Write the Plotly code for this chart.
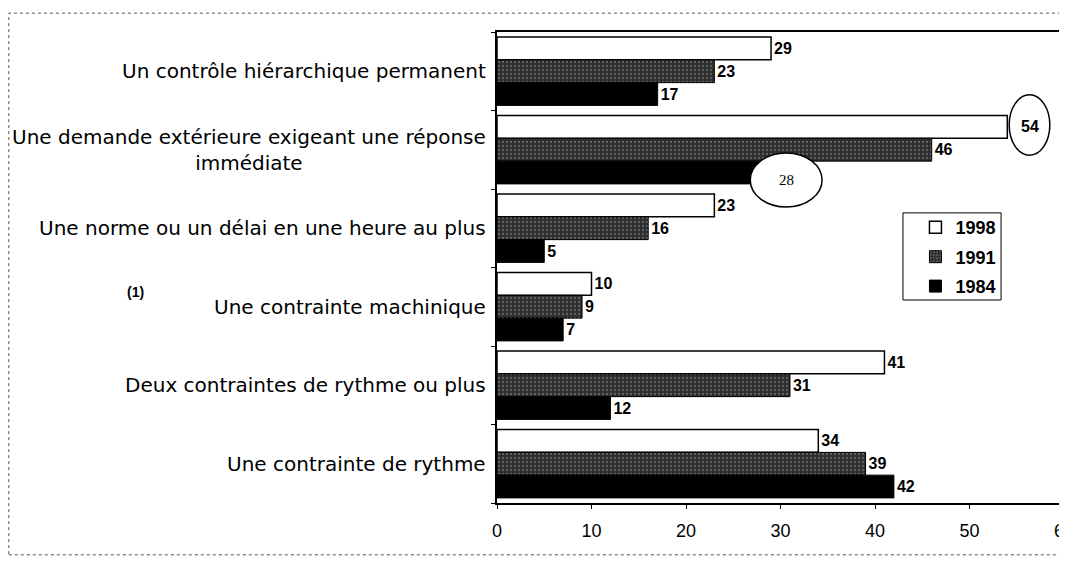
import plotly.graph_objects as go

categories = [
    "Un contrôle hiérarchique permanent",
    "Une demande extérieure exigeant une réponse<br>immédiate",
    "Une norme ou un délai en une heure au plus",
    "Une contrainte machinique",
    "Deux contraintes de rythme ou plus",
    "Une contrainte de rythme",
]
years = ["1998", "1991", "1984"]
v1998 = [29, 54, 23, 10, 41, 34]
v1991 = [23, 46, 16, 9, 31, 39]
v1984 = [17, 28, 5, 7, 12, 42]
x_ticks = [0, 10, 20, 30, 40, 50, 60]
x_ticktext = ["0", "10", "20", "30", "40", "50", "60"]

ypos = list(range(len(categories)))
FONT = "Liberation Sans, Arial, sans-serif"
lab_font = dict(family=FONT, size=16, color="black", weight="bold")

fig = go.Figure()
t1998 = [str(v) for v in v1998]
t1998[1] = ""
fig.add_trace(go.Bar(
    name=years[0], y=ypos, x=v1998, orientation="h", legendgroup="a",
    marker=dict(color="white", line=dict(color="black", width=1.5)),
    text=t1998, textposition="outside", textfont=lab_font,
    cliponaxis=False,
))
fig.add_trace(go.Bar(
    name=years[1], y=ypos, x=v1991, orientation="h", legendgroup="b",
    marker=dict(color="#2e2e2e", line=dict(color="black", width=1),
                pattern=dict(shape=".", bgcolor="#2e2e2e", fgcolor="#9a9a9a",
                             size=4, solidity=0.25)),
    text=[str(v) for v in v1991], textposition="outside", textfont=lab_font,
    cliponaxis=False,
))
t1984 = [str(v) for v in v1984]
t1984[1] = ""
fig.add_trace(go.Bar(
    name=years[2], y=ypos, x=v1984, orientation="h", legendgroup="c",
    marker=dict(color="black", line=dict(color="black", width=1)),
    text=t1984, textposition="outside", textfont=lab_font,
    cliponaxis=False,
))

# category labels
for i, c in enumerate(categories):
    fig.add_annotation(x=-0.016, xref="paper", y=i, yref="y", text=c,
                       showarrow=False, xanchor="right", align="center",
                       font=dict(family="DejaVu Sans, sans-serif", size=20, color="black"))
fig.add_annotation(x=-0.637, xref="paper", y=3, yref="y", yshift=15, text="(1)",
                   showarrow=False, xanchor="center",
                   font=dict(family=FONT, size=14, color="black", weight="bold"))

# ellipses (hand annotations)
fig.add_shape(type="circle", xref="x", yref="y", x0=54.2, x1=58.5, y0=0.30, y1=1.07,
              line=dict(color="black", width=1.5), fillcolor="white", layer="above")
fig.add_annotation(x=56.35, y=0.70, xref="x", yref="y", text=str(v1998[1]),
                   showarrow=False, font=lab_font)
fig.add_shape(type="circle", xref="x", yref="y", x0=26.8, x1=34.4, y0=1.04, y1=1.73,
              line=dict(color="black", width=1.5), fillcolor="white", layer="above")
fig.add_annotation(x=30.6, y=1.38, xref="x", yref="y", text=str(v1984[1]),
                   showarrow=False, font=dict(family="Liberation Serif, Times New Roman, serif",
                                              size=15, color="black"))

# outer dotted frame
fig.add_shape(type="rect", xref="paper", yref="paper", x0=-0.861, x1=1.0018, y0=-0.11, y1=1.040,
              line=dict(color="#555", width=1, dash="dot"), layer="below")
# legend frame
fig.add_shape(type="rect", xref="paper", yref="paper", x0=0.716, x1=0.889, y0=0.431, y1=0.616,
              line=dict(color="black", width=1), fillcolor="white", layer="below")

fig.update_layout(
    width=1059, height=553,
    margin=dict(l=489, r=3, t=24, b=58, autoexpand=False),
    paper_bgcolor="white", plot_bgcolor="rgba(0,0,0,0)",
    barmode="group", bargap=0.13, bargroupgap=0,
    font=dict(family=FONT, color="black"),
    legend=dict(x=0.738, y=0.624, xanchor="left", yanchor="top",
                borderwidth=0, bgcolor="rgba(0,0,0,0)",
                font=dict(family=FONT, size=18, color="black", weight="bold"),
                itemwidth=30, tracegroupgap=3),
    showlegend=True,
)
fig.update_xaxes(range=[0, 60], tickvals=x_ticks, ticktext=x_ticktext,
                 showgrid=False, zeroline=False, showline=True, linecolor="black",
                 linewidth=1.5, mirror=True, ticks="outside", ticklen=4,
                 tickcolor="black", ticklabeloverflow="allow", automargin=False,
                 ticklabelstandoff=7,
                 tickfont=dict(family=FONT, size=18, color="black"))
fig.update_yaxes(range=[5.5, -0.5], tickvals=[-0.5, 0.5, 1.5, 2.5, 3.5, 4.5, 5.5],
                 showticklabels=False, showgrid=False, zeroline=False, showline=True,
                 linecolor="black", linewidth=1.5, mirror=True, ticks="outside",
                 ticklen=4, tickcolor="black", automargin=False)

fig.write_html("out.html")
